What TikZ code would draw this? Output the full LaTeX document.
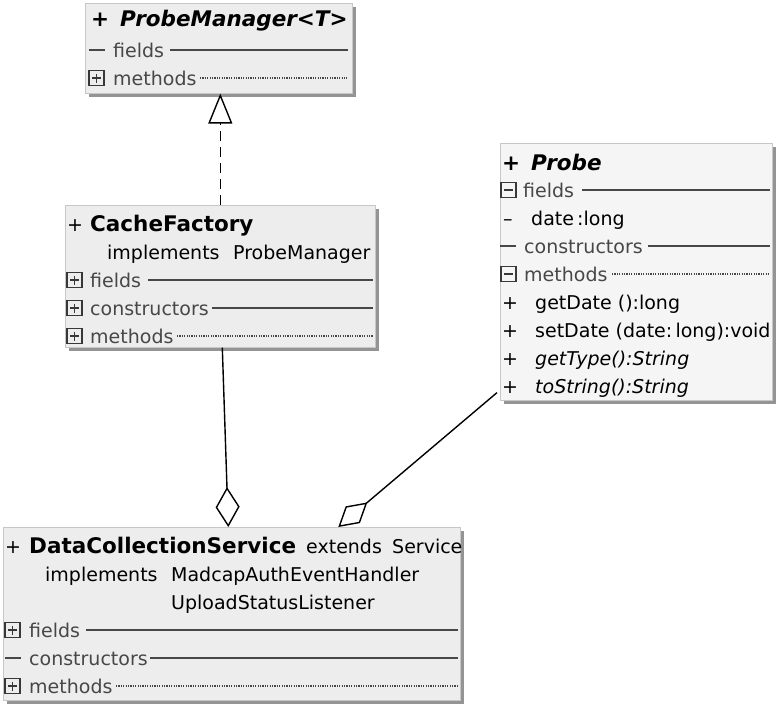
\documentclass[tikz,border=0pt]{standalone}
\usepackage{fontspec}
\setmainfont{DejaVu Sans}
\usetikzlibrary{arrows.meta}
\newcommand\rfont{\fontsize{19}{23}\selectfont}
\newcommand\tfont{\fontsize{21.5}{25}\selectfont\bfseries}
\tikzset{
  umlbox/.style={draw=black!22, line width=0.6pt, fill=black!7, inner sep=0pt, anchor=north west},
  shad/.style={fill=black!42},
  txt/.style={anchor=base west, inner sep=0pt, font=\rfont, text=black},
  sec/.style={anchor=base west, inner sep=0pt, font=\rfont, text=black!72},
  ttl/.style={anchor=base west, inner sep=0pt, font=\tfont, text=black},
  sepline/.style={draw=black!72, line width=1.6pt},
  dotline/.style={draw=black!72, line width=1.3pt, dash pattern=on 1.1pt off 1.3pt},
  icon/.style={draw=black!78, line width=1.1pt},
  conn/.style={draw=black, line width=1.4pt},
}
% boxed plus / minus icons and dash icon
\newcommand\plusicon[2]{%
  \draw[icon] (#1,#2-7.5) rectangle (#1+15,#2+7.5);
  \draw[icon, line width=1.6pt] (#1+3,#2) -- (#1+12,#2) (#1+7.5,#2-4.5) -- (#1+7.5,#2+4.5);}
\newcommand\minusicon[2]{%
  \draw[icon] (#1,#2-7.5) rectangle (#1+15,#2+7.5);
  \draw[icon, line width=1.6pt] (#1+3,#2) -- (#1+12,#2);}
\newcommand\dashicon[2]{%
  \draw[sepline] (#1,#2) -- (#1+16,#2);}
\begin{document}
\begin{tikzpicture}[x=1pt,y=-1pt]
\useasboundingbox (0,0) rectangle (778,704);
\fill[white] (0,0) rectangle (778,704);

% ---------- ProbeManager ----------
\fill[shad] (89,7) rectangle (356,97);
\node[umlbox, minimum width=267pt, minimum height=90pt] (pm) at (85,3) {};
\node[ttl, font=\tfont\itshape] (pmplus) at (91,27) {+};
\node[ttl, font=\tfont\itshape] (pmname) at (120,27) {ProbeManager<T>};
\dashicon{89}{50}
\node[sec] (pmf) at (113,57) {fields};
\draw[sepline] (170,50) -- (348,50);
\plusicon{89}{78}
\node[sec] (pmm) at (113,85) {methods};
\draw[dotline] (200,78) -- (347,78);

% ---------- CacheFactory ----------
\fill[shad] (69,209) rectangle (379,351);
\node[umlbox, minimum width=310pt, minimum height=142pt] (cf) at (65,205) {};
\node[txt] (cfplus) at (67,231) {+};
\node[ttl] (cfname) at (90,231) {CacheFactory};
\node[txt] (cfimp) at (107,259) {implements};
\node[txt] (cfimpn) at (233,259) {ProbeManager};
\plusicon{67}{280}
\node[sec] (cff) at (90,287) {fields};
\draw[sepline] (148,280) -- (373,280);
\plusicon{67}{308}
\node[sec] (cfc) at (90,315) {constructors};
\draw[sepline] (212,308) -- (373,308);
\plusicon{67}{336}
\node[sec] (cfm) at (90,343) {methods};
\draw[dotline] (177,336) -- (373,336);

% ---------- Probe ----------
\fill[shad] (504,147) rectangle (776,404);
\node[umlbox, fill=black!4, minimum width=272pt, minimum height=257pt] (pr) at (500,143) {};
\node[ttl, font=\tfont\itshape] (prplus) at (502,170) {+};
\node[ttl, font=\tfont\itshape] (prname) at (531,170) {Probe};
\minusicon{501}{190}
\node[sec] (prf) at (523,197) {fields};
\draw[sepline] (582,190) -- (770,190);
\node[txt] (prdm) at (503,225) {–};
\node[txt] (prd) at (531,225) {date\,:long};
\dashicon{500}{246}
\node[sec] (prc) at (524,253) {constructors};
\draw[sepline] (648,246) -- (770,246);
\minusicon{501}{274}
\node[sec] (prm) at (524,281) {methods};
\draw[dotline] (612,274) -- (770,274);
\node[txt] (pr1p) at (502,309) {+};
\node[txt] (pr1) at (535,309) {getDate ():long};
\node[txt] (pr2p) at (502,337) {+};
\node[txt] (pr2) at (535,337) {setDate (date:\,long):void};
\node[txt, font=\rfont\itshape] (pr3p) at (502,365) {+};
\node[txt, font=\rfont\itshape] (pr3) at (535,365) {getType():String};
\node[txt, font=\rfont\itshape] (pr4p) at (502,393) {+};
\node[txt, font=\rfont\itshape] (pr4) at (535,393) {toString():String};

% ---------- DataCollectionService ----------
\fill[shad] (7,531) rectangle (464,704);
\node[umlbox, minimum width=457pt, minimum height=173pt] (dcs) at (3,527) {};
\node[txt] (dplus) at (5,553) {+};
\node[ttl] (dname) at (29,553) {DataCollectionService};
\node[txt] (dext) at (306,553) {extends};
\node[txt] (dsup) at (392,553) {Service};
\node[txt] (dimp) at (45,581) {implements};
\node[txt] (di1) at (171,581) {MadcapAuthEventHandler};
\node[txt] (di2) at (171,609) {UploadStatusListener};
\plusicon{5}{630}
\node[sec] (dcf) at (29,637) {fields};
\draw[sepline] (86,630) -- (458,630);
\dashicon{5}{658}
\node[sec] (dcc) at (29,665) {constructors};
\draw[sepline] (150,658) -- (458,658);
\plusicon{5}{686}
\node[sec] (dcm) at (29,693) {methods};
\draw[dotline] (116,686) -- (458,686);

% ---------- connectors ----------
\draw[conn, dash pattern=on 10pt off 6pt, -{Triangle[open, length=30pt, width=24pt, line width=1.4pt]}]
  (cf.north) -- (cf.north |- pm.south);
\draw[conn, {Diamond[open, length=40pt, width=24pt, line width=1.4pt]}-]
  ([xshift=-3.5pt]dcs.north) -- ([xshift=2pt]cf.south);
\draw[conn, {Diamond[open, length=38pt, width=22pt, line width=1.4pt]}-]
  ([xshift=106.5pt]dcs.north) -- ([xshift=-3pt, yshift=8pt]pr.south west);
\end{tikzpicture}
\end{document}
